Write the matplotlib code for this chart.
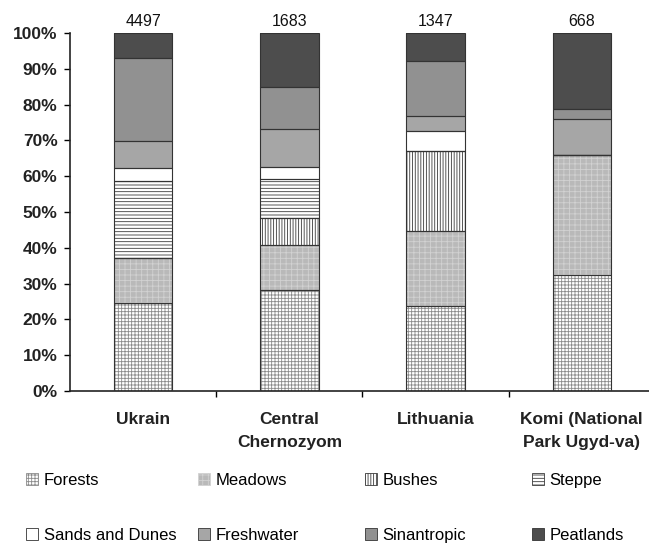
import matplotlib
matplotlib.use("Agg")
import matplotlib.pyplot as plt
import numpy as np
from matplotlib.patches import Patch

plt.rcParams['font.family'] = ['Liberation Sans', 'DejaVu Sans']
plt.rcParams['hatch.linewidth'] = 0.6

regions = ["Ukrain", "Central\nChernozyom", "Lithuania", "Komi (National\nPark Ugyd-va)"]
totals = ["4497", "1683", "1347", "668"]
categories = ["Forests", "Meadows", "Bushes", "Steppe", "Sands and Dunes",
              "Freshwater", "Sinantropic", "Peatlands"]
forests     = [24.5, 28.2, 23.7, 32.4]
meadows     = [12.6, 12.6, 21.0, 33.5]
bushes      = [0.0, 7.4, 22.4, 0.0]
steppe      = [21.6, 10.9, 0.0, 0.0]
sands       = [3.7, 3.6, 5.5, 0.0]
freshwater  = [7.5, 10.4, 4.2, 10.1]
sinantropic = [23.0, 11.7, 15.5, 2.7]
peatlands   = [7.1, 15.2, 7.7, 21.3]
series = [forests, meadows, bushes, steppe, sands, freshwater, sinantropic, peatlands]

# (facecolor, hatch, hatchcolor)
styles = [
    ("#ffffff", "+++++", "#8a8a8a"),
    ("#b9b9b9", "+++", "#d2d2d2"),
    ("#ffffff", "||||||", "#3a3a3a"),
    ("#ffffff", "-----", "#3a3a3a"),
    ("#ffffff", None, "#ffffff"),
    ("#a6a6a6", None, "#a6a6a6"),
    ("#919191", None, "#919191"),
    ("#4d4d4d", None, "#4d4d4d"),
]

fig = plt.figure(figsize=(6.49, 5.49), dpi=100)
ax = fig.add_axes([70/649, 1-391/549, 1-70/649, (391-33)/549])

x = np.arange(len(regions))
w = 0.4
bottom = np.zeros(len(regions))
for vals, (fc, hatch, hc) in zip(series, styles):
    v = np.array(vals)
    ax.bar(x, v, w, bottom=bottom, color=fc, hatch=hatch, edgecolor=hc, linewidth=0, zorder=2)
    ax.bar(x, v, w, bottom=bottom, facecolor="none", edgecolor="#333333", linewidth=0.8, zorder=3)
    bottom += v

for xi, t, b in zip(x, totals, bottom):
    ax.text(xi, 101.2, t, ha="center", va="bottom", fontsize=11.5, color="#111111")

ax.set_xlim(-0.5, 3.46)
ax.set_ylim(0, 100)
ax.set_yticks(np.arange(0, 101, 10))
ax.set_yticklabels([f"{v}%" for v in range(0, 101, 10)], fontsize=12.5, fontweight="bold", color="#222222")
ax.set_xticks([0.5, 1.5, 2.5])
ax.set_xticklabels([])
ax.set_xticks(x, minor=True)
ax.set_xticklabels(regions, minor=True, fontsize=12.5, fontweight="bold", color="#222222",
                   linespacing=1.7)
ax.tick_params(axis="x", which="minor", length=0, pad=15)
ax.tick_params(axis="x", which="major", length=4, width=1, direction="out")
ax.tick_params(axis="y", length=4, width=1, direction="out", pad=5)
for s in ["top", "right"]:
    ax.spines[s].set_visible(False)
for s in ["left", "bottom"]:
    ax.spines[s].set_linewidth(1.2)
    ax.spines[s].set_color("#222222")

handles = [Patch(facecolor=fc, hatch=h, edgecolor=(hc if h else "#333333"), linewidth=0.6)
           for fc, h, hc in styles]
# legend items placed in a 4x2 grid (pixel positions of the reference)
col_x = [26, 198, 365, 532]
row_top = [473, 528]
for i, (hdl, lab) in enumerate(zip(handles, categories)):
    cx = col_x[i % 4]
    cy = row_top[i // 4]
    fig.legend([hdl], [lab], loc="upper left", bbox_to_anchor=(cx/649, 1-cy/549),
               frameon=False, fontsize=12, handlelength=0.7, handleheight=0.7,
               handletextpad=0.35, borderaxespad=0, borderpad=0)

fig.savefig("out.png", dpi=100)
